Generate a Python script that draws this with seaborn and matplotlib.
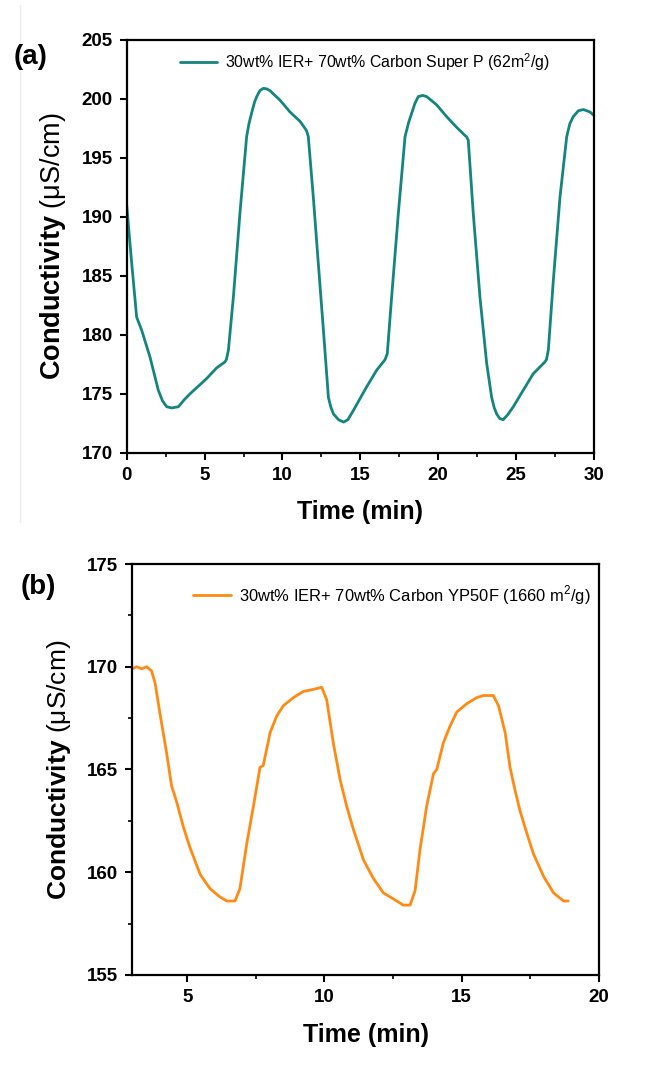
import pandas as pd
import seaborn as sns
import matplotlib.pyplot as plt
from matplotlib.lines import Line2D
from matplotlib.ticker import MultipleLocator

# --- DADOS ---
tempo_a = [0.0, 0.32, 0.64, 0.96, 1.5, 2.03, 2.3, 2.57, 2.89, 3.32, 3.7, 4.07, 5.14, 5.78,
           6.31, 6.4, 6.53, 6.85, 7.27, 7.70, 7.85, 8.02, 8.2, 8.35, 8.55, 8.77, 9.0, 9.2,
           9.84, 10.48, 11.13, 11.45, 11.55, 11.66, 11.98, 12.3, 12.63, 12.95, 13.1, 13.27,
           13.6, 13.93, 14.2, 14.56, 15.41, 16.05, 16.59, 16.73, 17.01, 17.44, 17.87, 18.1,
           18.3, 18.5, 18.72, 19.0, 19.26, 19.9, 20.54, 21.18, 21.72, 21.82, 21.93, 22.25,
           22.68, 23.11, 23.43, 23.6, 23.75, 23.95, 24.17, 24.45, 24.82, 25.46, 26.1, 26.85,
           26.95, 27.07, 27.39, 27.82, 28.25, 28.45, 28.67, 29.0, 29.32, 29.74, 30.0]
cond_a = [191.0, 186.1, 181.5, 180.4, 178.1, 175.3, 174.4, 173.9, 173.8, 173.9, 174.5, 175.0,
          176.3, 177.2, 177.7, 177.9, 178.7, 183.2, 190.3, 196.8, 197.9, 198.8, 199.7, 200.2,
          200.7, 200.9, 200.85, 200.7, 199.9, 198.9, 198.1, 197.5, 197.3, 196.8, 191.7, 186.1,
          180.4, 174.7, 173.9, 173.3, 172.8, 172.6, 172.8, 173.6, 175.6, 177.0, 177.9, 178.4,
          183.2, 190.3, 196.8, 198.0, 198.8, 199.6, 200.2, 200.3, 200.2, 199.5, 198.5, 197.6,
          196.9, 196.8, 196.5, 190.3, 183.2, 177.6, 174.7, 173.8, 173.3, 172.9, 172.8, 173.2,
          173.9, 175.3, 176.7, 177.7, 177.9, 178.7, 184.6, 191.7, 196.8, 197.9, 198.5, 199.0,
          199.1, 198.9, 198.6]

tempo_b = [3.0, 3.16, 3.34, 3.52, 3.7, 3.83, 4.01, 4.25, 4.43, 4.62, 4.86, 5.1, 5.47, 5.83,
           6.19, 6.44, 6.74, 6.92, 7.17, 7.41, 7.65, 7.77, 8.02, 8.26, 8.5, 8.87, 9.23, 9.6,
           9.9, 10.08, 10.32, 10.57, 10.81, 11.05, 11.42, 11.78, 12.14, 12.51, 12.87, 13.12,
           13.3, 13.48, 13.72, 13.97, 14.09, 14.33, 14.57, 14.82, 15.18, 15.55, 15.79, 16.15,
           16.34, 16.58, 16.76, 16.94, 17.12, 17.37, 17.61, 17.98, 18.34, 18.71, 18.88]
cond_b = [169.9, 170.0, 169.9, 170.0, 169.8, 169.2, 167.7, 165.8, 164.2, 163.4, 162.2, 161.2,
          159.9, 159.2, 158.8, 158.6, 158.6, 159.2, 161.4, 163.2, 165.1, 165.2, 166.8, 167.6,
          168.1, 168.5, 168.8, 168.9, 169.0, 168.4, 166.3, 164.5, 163.2, 162.1, 160.6, 159.7,
          159.0, 158.7, 158.4, 158.4, 159.1, 161.1, 163.2, 164.8, 165.0, 166.3, 167.1, 167.8,
          168.2, 168.5, 168.6, 168.6, 168.1, 166.8, 165.1, 164.0, 163.0, 161.9, 160.9, 159.8,
          159.0, 158.6, 158.6]

legenda_a = "30wt% IER+ 70wt% Carbon Super P (62m$^2$/g)"
legenda_b = "30wt% IER+ 70wt% Carbon YP50F (1660 m$^2$/g)"
cor_a = "#14857f"
cor_b = "#ff8a14"

sns.set_style("ticks")
plt.rcParams['font.family'] = ['Liberation Sans', 'DejaVu Sans']
plt.rcParams['mathtext.fontset'] = 'custom'
plt.rcParams['mathtext.rm'] = 'Liberation Sans'
plt.rcParams['mathtext.bf'] = 'Liberation Sans:bold'
for k in ['text.color', 'axes.labelcolor', 'xtick.color', 'ytick.color']:
    plt.rcParams[k] = 'black'

fig = plt.figure(figsize=(6.71, 10.66), dpi=100)
ax_a = fig.add_axes([0.1888, 0.5753, 0.6964, 0.3872])
ax_b = fig.add_axes([0.1972, 0.0854, 0.6955, 0.3855])

df_a = pd.DataFrame({'Tempo': tempo_a, 'Cond': cond_a})
df_b = pd.DataFrame({'Tempo': tempo_b, 'Cond': cond_b})

sns.lineplot(data=df_a, x='Tempo', y='Cond', ax=ax_a, color=cor_a, lw=2, label=legenda_a)
sns.lineplot(data=df_b, x='Tempo', y='Cond', ax=ax_b, color=cor_b, lw=2, label=legenda_b)


def formatar(ax, xlim, ylim, y_menor, leg_pos, leg_fs, lab_fs):
    ax.set_xlim(*xlim)
    ax.set_ylim(*ylim)
    ax.xaxis.set_major_locator(MultipleLocator(5))
    ax.xaxis.set_minor_locator(MultipleLocator(2.5))
    ax.yaxis.set_major_locator(MultipleLocator(5))
    if y_menor:
        ax.yaxis.set_minor_locator(MultipleLocator(2.5))
    for s in ax.spines.values():
        s.set_visible(True)
        s.set_linewidth(1.6)
        s.set_color('black')
    ax.tick_params(which='major', length=5, width=1.5, labelsize=13.5, pad=5)
    ax.tick_params(which='minor', length=3, width=1.2)
    for lb in ax.get_xticklabels() + ax.get_yticklabels():
        lb.set_fontweight('bold')
    ax.set_xlabel('Time (min)', fontsize=18, fontweight='bold', labelpad=12)
    ax.set_ylabel(r'$\mathbf{Conductivity}$ ($\mathrm{\mu}$S/cm)', fontsize=lab_fs, labelpad=10)
    ax.legend(loc='center left', bbox_to_anchor=leg_pos, frameon=False, fontsize=leg_fs,
              handlelength=2.3, handletextpad=0.5, borderaxespad=0, borderpad=0)


formatar(ax_a, (0, 30), (170, 205), False, (0.115, 0.947), 11.4, 19.5)
formatar(ax_b, (3, 20), (155, 175), True, (0.13, 0.925), 11.9, 19)

fig.text(0.02, 0.94, '(a)', fontsize=20, fontweight='bold')
fig.text(0.03, 0.443, '(b)', fontsize=20, fontweight='bold')

# borda fraca da imagem original
fig.add_artist(Line2D([0.03, 0.03], [0.995, 0.51], color='#ececec', lw=1))

fig.savefig('out.png', dpi=100, facecolor='white')
